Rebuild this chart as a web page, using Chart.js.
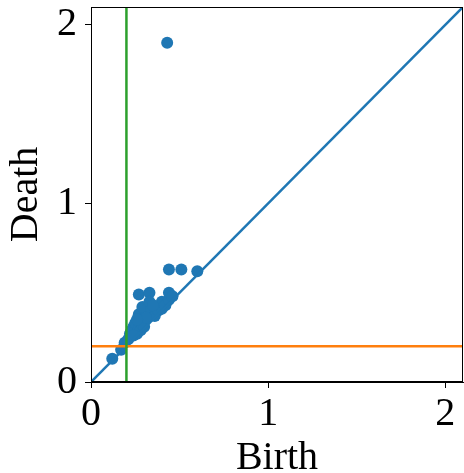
<!DOCTYPE html>
<html>
<head>
<meta charset="utf-8">
<script src="https://cdn.jsdelivr.net/npm/chart.js@4/dist/chart.umd.min.js"></script>
<style>
  html, body { margin: 0; padding: 0; background: #fff; }
</style>
</head>
<body>
<canvas id="myChart" width="464" height="473"></canvas>
<script>
// persistence pairs: [birth, death]
const births = [0.12, 0.17, 0.19, 0.21, 0.22, 0.23, 0.24, 0.25, 0.26, 0.27, 0.28, 0.29, 0.30, 0.27, 0.29, 0.27, 0.33, 0.33, 0.34, 0.36, 0.38, 0.40, 0.40, 0.42, 0.44, 0.44, 0.46, 0.44, 0.51, 0.60, 0.43, 0.31, 0.35, 0.24, 0.26];
const deaths = [0.13, 0.18, 0.22, 0.24, 0.27, 0.29, 0.31, 0.33, 0.27, 0.30, 0.29, 0.32, 0.31, 0.38, 0.42, 0.49, 0.50, 0.45, 0.40, 0.37, 0.40, 0.41, 0.45, 0.43, 0.46, 0.50, 0.48, 0.63, 0.63, 0.62, 1.90, 0.36, 0.43, 0.26, 0.35];
const axisMax = 2.1;
const threshold = 0.2;
const tickValues = [0, 1, 2];

const blue = '#1f77b4';
const orange = '#ff7f0e';
const green = '#2ca02c';

const frame = {
  id: 'frame',
  afterDraw(chart) {
    const {ctx, chartArea: a} = chart;
    ctx.save();
    ctx.strokeStyle = '#000';
    ctx.lineWidth = 1;
    ctx.strokeRect(Math.round(a.left) + 0.5, Math.round(a.top) + 0.5,
      Math.round(a.right - a.left) - 1, Math.round(a.bottom - a.top) - 1);
    ctx.restore();
  }
};

const font = {family: '"Liberation Serif", "DejaVu Serif", serif', size: 40};

new Chart(document.getElementById('myChart'), {
  type: 'scatter',
  data: {
    datasets: [
      {
        label: 'threshold x',
        type: 'line',
        data: [{x: threshold, y: 0}, {x: threshold, y: axisMax}],
        borderColor: green,
        borderWidth: 2.5,
        pointRadius: 0,
        order: 0
      },
      {
        label: 'threshold y',
        type: 'line',
        data: [{x: 0, y: threshold}, {x: axisMax, y: threshold}],
        borderColor: orange,
        borderWidth: 2.5,
        pointRadius: 0,
        order: 1
      },
      {
        label: 'diagonal',
        type: 'line',
        data: [{x: 0, y: 0}, {x: axisMax, y: axisMax}],
        borderColor: blue,
        borderWidth: 2.5,
        pointRadius: 0,
        order: 2
      },
      {
        label: 'pairs',
        data: births.map((b, i) => ({x: b, y: deaths[i]})),
        backgroundColor: blue,
        borderColor: blue,
        borderWidth: 0,
        pointRadius: 6,
        order: 3
      }
    ]
  },
  options: {
    responsive: false,
    animation: false,
    layout: {autoPadding: false, padding: {top: 7, right: 1, left: 0, bottom: 0}},
    plugins: {legend: {display: false}, tooltip: {enabled: false}},
    scales: {
      x: {
        type: 'linear',
        min: 0,
        max: axisMax,
        afterBuildTicks: s => { s.ticks = tickValues.map(v => ({value: v})); },
        afterFit: s => { s.height = 91; s.paddingLeft = 0; s.paddingRight = 0; },
        grid: {drawOnChartArea: false, drawTicks: true, tickLength: 6, color: '#000'},
        border: {display: true, color: '#000', width: 1},
        ticks: {color: '#000', font: font, padding: 2, maxRotation: 0},
        title: {display: true, text: 'Birth', color: '#000', font: font, padding: {top: 0, bottom: -9}}
      },
      y: {
        type: 'linear',
        min: 0,
        max: axisMax,
        afterBuildTicks: s => { s.ticks = tickValues.map(v => ({value: v})); },
        afterFit: s => { s.width = 91; s.paddingTop = 0; s.paddingBottom = 0; },
        grid: {drawOnChartArea: false, drawTicks: true, tickLength: 6, color: '#000'},
        border: {display: true, color: '#000', width: 1},
        ticks: {color: '#000', font: font, padding: 8},
        title: {display: true, text: 'Death', color: '#000', font: font, padding: {top: 2, bottom: 0}}
      }
    }
  },
  plugins: [frame]
});
</script>
</body>
</html>
